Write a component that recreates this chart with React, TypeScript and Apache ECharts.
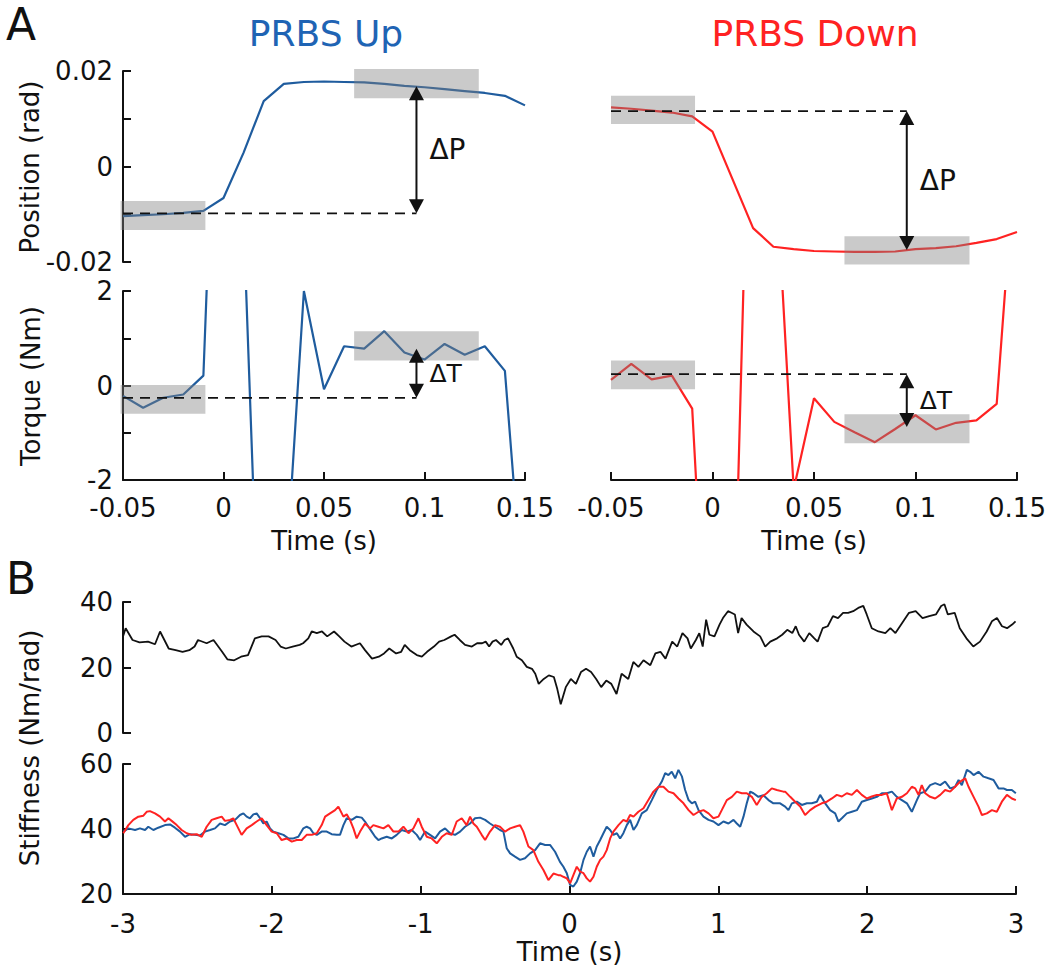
import React, { useEffect, useRef } from "react";
import * as echarts from "echarts";

// ---------- Panel A data ----------
const tA = [-0.05, -0.04, -0.03, -0.02, -0.01, 0, 0.01, 0.02, 0.03, 0.04, 0.05, 0.06, 0.07, 0.08, 0.09, 0.1, 0.11, 0.12, 0.13, 0.14, 0.15];
const posUp = [-0.0104, -0.0102, -0.01, -0.0097, -0.0093, -0.0066, 0.0029, 0.0137, 0.0173, 0.0177, 0.0178, 0.0177, 0.0176, 0.0173, 0.0169, 0.0166, 0.0162, 0.0158, 0.0154, 0.0148, 0.0128];
const posDown = [0.0124, 0.0121, 0.0117, 0.0113, 0.0105, 0.0073, -0.0028, -0.0129, -0.0168, -0.0173, -0.0177, -0.0178, -0.0179, -0.0179, -0.0178, -0.0173, -0.0171, -0.0167, -0.016, -0.0152, -0.0137];
const torqueUp = [-0.22, -0.47, -0.26, -0.19, 0.21, 11.4, 3.5, -8.3, -4.7, 2.0, -0.08, 0.83, 0.78, 1.15, 0.7, 0.55, 0.88, 0.65, 0.83, 0.31, -5.1];
const torqueDown = [0.12, 0.46, 0.13, 0.21, -0.49, -8.4, -6.3, 9.7, 5.5, -2.2, -0.27, -0.77, -0.99, -1.2, -0.92, -0.63, -0.93, -0.79, -0.74, -0.39, 5.4];

// shaded averaging windows: [xStart, xEnd, yLow, yHigh]
const posUpBoxes = [[-0.0512, -0.009, -0.0133, -0.0072], [0.065, 0.127, 0.0143, 0.0204]];
const posDownBoxes = [[-0.05, -0.0086, 0.0089, 0.0148], [0.065, 0.1266, -0.0205, -0.0146]];
const torqueUpBoxes = [[-0.0512, -0.009, -0.6, 0.01], [0.065, 0.127, 0.53, 1.15]];
const torqueDownBoxes = [[-0.05, -0.0086, -0.08, 0.53], [0.065, 0.1266, -1.22, -0.61]];

// delta annotations: [dashStart, arrowX, baseLevel, targetLevel]
const posUpDelta = [-0.05, 0.096, -0.0098, 0.0168];
const posDownDelta = [-0.05, 0.0957, 0.0116, -0.0175];
const torqueUpDelta = [-0.05, 0.096, -0.26, 0.78];
const torqueDownDelta = [-0.05, 0.0957, 0.24, -0.88];

// ---------- Panel B data: [time (s), stiffness (Nm/rad)] ----------
const stiffnessAll = [
  [-3.0, 29.5], [-2.982, 32.0], [-2.936, 28.4], [-2.889, 27.7], [-2.832, 27.9], [-2.785, 27.1], [-2.751, 31.0], [-2.693, 25.8], [-2.646, 25.3], [-2.6, 24.8],
  [-2.554, 25.3], [-2.519, 26.4], [-2.496, 28.4], [-2.438, 27.4], [-2.392, 28.4], [-2.334, 24.8], [-2.299, 22.5], [-2.253, 22.2], [-2.207, 23.3], [-2.16, 23.8],
  [-2.114, 28.9], [-2.068, 29.5], [-2.022, 29.5], [-1.975, 28.4], [-1.941, 26.4], [-1.906, 25.8], [-1.86, 26.4], [-1.813, 26.9], [-1.79, 27.4], [-1.755, 28.9],
  [-1.732, 31.0], [-1.698, 30.5], [-1.663, 31.0], [-1.628, 29.5], [-1.582, 31.0], [-1.547, 29.5], [-1.512, 27.9], [-1.466, 26.4], [-1.408, 27.4], [-1.374, 25.3],
  [-1.327, 22.7], [-1.281, 23.3], [-1.246, 24.3], [-1.211, 25.8], [-1.165, 24.3], [-1.131, 24.8], [-1.107, 26.9], [-1.073, 25.3], [-1.026, 23.8], [-0.992, 23.3],
  [-0.957, 24.8], [-0.911, 26.4], [-0.876, 27.9], [-0.841, 28.4], [-0.795, 29.5], [-0.772, 30.0], [-0.737, 28.4], [-0.702, 26.9], [-0.656, 26.4], [-0.621, 27.4],
  [-0.587, 27.4], [-0.563, 27.9], [-0.54, 26.4], [-0.517, 27.9], [-0.494, 28.4], [-0.459, 26.9], [-0.436, 28.4], [-0.413, 28.9], [-0.378, 25.8], [-0.355, 23.3],
  [-0.32, 22.2], [-0.287, 20.2], [-0.252, 19.6], [-0.23, 18.1], [-0.207, 15.0], [-0.173, 16.5], [-0.139, 17.6], [-0.105, 17.1], [-0.082, 13.4], [-0.059, 8.8],
  [-0.025, 14.0], [0.009, 16.5], [0.043, 15.0], [0.077, 18.6], [0.111, 19.6], [0.145, 18.6], [0.179, 16.5], [0.213, 14.0], [0.247, 16.0], [0.281, 15.0],
  [0.316, 11.9], [0.35, 18.1], [0.395, 16.5], [0.429, 21.7], [0.463, 20.2], [0.497, 22.2], [0.543, 20.7], [0.577, 24.3], [0.611, 24.8], [0.645, 22.7],
  [0.69, 27.9], [0.724, 26.4], [0.759, 30.5], [0.793, 28.9], [0.815, 25.8], [0.849, 28.4], [0.872, 30.5], [0.895, 26.4], [0.918, 34.6], [0.94, 30.0],
  [0.974, 29.5], [1.008, 33.1], [1.031, 35.1], [1.065, 37.2], [1.088, 36.7], [1.111, 36.2], [1.133, 30.5], [1.156, 35.1], [1.19, 33.1], [1.236, 31.0],
  [1.281, 29.5], [1.315, 26.4], [1.349, 27.9], [1.395, 28.9], [1.429, 30.0], [1.463, 31.5], [1.497, 30.5], [1.52, 32.6], [1.542, 30.0], [1.577, 27.9],
  [1.611, 30.5], [1.645, 28.9], [1.667, 27.9], [1.701, 32.0], [1.735, 32.6], [1.77, 35.7], [1.804, 35.1], [1.838, 36.7], [1.872, 36.7], [1.906, 37.2],
  [1.94, 38.2], [1.974, 38.8], [1.997, 36.2], [2.031, 32.0], [2.076, 31.0], [2.122, 30.5], [2.156, 32.0], [2.19, 30.5], [2.235, 33.6], [2.281, 36.7],
  [2.326, 37.2], [2.372, 35.1], [2.417, 35.7], [2.462, 36.2], [2.497, 38.8], [2.519, 39.3], [2.542, 36.2], [2.588, 36.7], [2.622, 32.0], [2.667, 28.9],
  [2.713, 26.4], [2.758, 27.9], [2.803, 31.0], [2.838, 34.1], [2.872, 35.1], [2.906, 32.6], [2.94, 32.0], [2.974, 33.1], [2.997, 34.1]
];

const stiffnessUp = [
  [-2.998, 39.2], [-2.964, 40.2], [-2.919, 39.7], [-2.886, 40.2], [-2.852, 39.7], [-2.83, 40.7], [-2.796, 39.7], [-2.763, 40.4], [-2.718, 41.2], [-2.684, 41.4],
  [-2.651, 40.4], [-2.617, 39.2], [-2.583, 37.6], [-2.55, 38.4], [-2.516, 38.2], [-2.483, 38.0], [-2.449, 39.2], [-2.415, 39.7], [-2.382, 40.2], [-2.348, 41.7],
  [-2.315, 41.2], [-2.281, 42.3], [-2.247, 42.8], [-2.214, 44.3], [-2.191, 44.8], [-2.169, 43.8], [-2.147, 43.3], [-2.124, 44.5], [-2.102, 44.8], [-2.079, 43.3],
  [-2.057, 41.7], [-2.035, 42.3], [-2.012, 40.2], [-1.99, 39.2], [-1.956, 38.7], [-1.922, 38.2], [-1.889, 37.1], [-1.855, 37.1], [-1.822, 37.6], [-1.788, 40.2],
  [-1.766, 40.7], [-1.743, 40.2], [-1.721, 38.7], [-1.698, 38.2], [-1.665, 39.2], [-1.631, 39.2], [-1.598, 38.4], [-1.564, 38.2], [-1.542, 38.2], [-1.519, 41.2],
  [-1.497, 43.3], [-1.463, 42.8], [-1.43, 43.8], [-1.396, 43.5], [-1.374, 42.3], [-1.351, 40.7], [-1.329, 39.2], [-1.306, 37.6], [-1.284, 36.6], [-1.262, 37.1],
  [-1.228, 37.6], [-1.194, 37.1], [-1.161, 38.2], [-1.127, 39.7], [-1.094, 39.2], [-1.06, 39.7], [-1.026, 38.2], [-1.004, 36.6], [-0.97, 39.2], [-0.937, 38.2],
  [-0.903, 37.1], [-0.87, 39.2], [-0.836, 40.2], [-0.803, 38.7], [-0.769, 38.2], [-0.735, 39.2], [-0.702, 40.7], [-0.668, 41.7], [-0.635, 43.3], [-0.601, 43.5],
  [-0.567, 42.8], [-0.534, 41.7], [-0.5, 40.7], [-0.467, 39.7], [-0.444, 39.2], [-0.422, 34.1], [-0.399, 32.5], [-0.366, 31.5], [-0.332, 30.5], [-0.299, 31.0],
  [-0.265, 32.5], [-0.231, 33.5], [-0.198, 35.6], [-0.164, 35.1], [-0.131, 35.1], [-0.097, 33.0], [-0.064, 29.9], [-0.041, 28.4], [-0.018, 26.4], [0.004, 22.8],
  [0.026, 22.3], [0.049, 23.8], [0.071, 26.4], [0.094, 30.5], [0.116, 33.0], [0.138, 34.6], [0.161, 31.5], [0.183, 34.6], [0.206, 36.6], [0.228, 38.7],
  [0.25, 40.7], [0.273, 39.7], [0.295, 38.2], [0.318, 38.7], [0.34, 37.1], [0.362, 38.7], [0.385, 41.2], [0.407, 42.8], [0.43, 39.7], [0.452, 41.2],
  [0.486, 44.8], [0.519, 45.8], [0.553, 48.9], [0.586, 52.0], [0.62, 54.6], [0.643, 57.2], [0.665, 56.6], [0.687, 57.6], [0.71, 55.6], [0.732, 58.2],
  [0.755, 56.2], [0.777, 52.0], [0.8, 48.9], [0.822, 47.9], [0.844, 48.4], [0.867, 45.8], [0.9, 43.8], [0.934, 42.8], [0.967, 42.3], [1.001, 41.2],
  [1.034, 42.3], [1.068, 41.7], [1.102, 42.8], [1.124, 41.7], [1.147, 40.7], [1.169, 43.8], [1.191, 47.9], [1.214, 51.5], [1.236, 51.0], [1.269, 49.9],
  [1.303, 50.4], [1.337, 48.9], [1.37, 47.9], [1.415, 47.9], [1.449, 46.9], [1.471, 45.8], [1.494, 47.9], [1.527, 48.4], [1.561, 47.4], [1.595, 47.9],
  [1.628, 47.9], [1.662, 48.4], [1.684, 50.5], [1.718, 47.9], [1.751, 45.8], [1.785, 44.8], [1.807, 42.3], [1.83, 43.3], [1.863, 44.8], [1.897, 45.3],
  [1.931, 45.8], [1.964, 48.4], [1.998, 48.9], [2.031, 49.4], [2.065, 49.9], [2.099, 51.0], [2.132, 51.0], [2.166, 51.5], [2.199, 49.9], [2.233, 48.9],
  [2.267, 47.9], [2.3, 45.3], [2.334, 48.9], [2.356, 51.0], [2.39, 51.5], [2.423, 53.5], [2.457, 54.1], [2.491, 53.5], [2.524, 54.6], [2.558, 52.5],
  [2.591, 53.0], [2.614, 55.1], [2.636, 53.5], [2.67, 58.2], [2.692, 57.6], [2.715, 56.6], [2.748, 57.6], [2.782, 56.1], [2.815, 55.6], [2.849, 55.1],
  [2.883, 52.5], [2.916, 52.5], [2.939, 52.0], [2.972, 52.0], [2.999, 51.0]
];

const stiffnessDown = [
  [-2.998, 38.7], [-2.964, 41.2], [-2.931, 42.8], [-2.897, 43.8], [-2.863, 44.1], [-2.841, 45.3], [-2.819, 45.5], [-2.785, 44.8], [-2.751, 43.8], [-2.718, 42.3],
  [-2.695, 43.3], [-2.673, 42.5], [-2.639, 41.2], [-2.606, 39.7], [-2.572, 38.7], [-2.539, 38.2], [-2.505, 38.4], [-2.471, 37.6], [-2.438, 40.7], [-2.404, 42.8],
  [-2.371, 43.3], [-2.337, 43.8], [-2.315, 42.5], [-2.281, 42.8], [-2.259, 43.3], [-2.236, 41.2], [-2.203, 38.2], [-2.169, 40.2], [-2.135, 41.2], [-2.102, 42.3],
  [-2.068, 43.3], [-2.035, 41.2], [-2.001, 39.2], [-1.967, 38.7], [-1.934, 36.6], [-1.9, 37.1], [-1.866, 36.1], [-1.833, 36.6], [-1.799, 36.6], [-1.766, 38.2],
  [-1.732, 38.2], [-1.698, 38.7], [-1.665, 41.2], [-1.642, 43.8], [-1.609, 44.8], [-1.575, 45.8], [-1.553, 46.9], [-1.53, 44.8], [-1.519, 43.8], [-1.497, 44.5],
  [-1.475, 42.8], [-1.452, 40.2], [-1.43, 37.1], [-1.407, 39.2], [-1.374, 41.7], [-1.34, 40.2], [-1.318, 41.2], [-1.284, 40.7], [-1.25, 40.2], [-1.217, 41.2],
  [-1.183, 39.2], [-1.15, 39.2], [-1.116, 40.7], [-1.082, 38.7], [-1.049, 40.2], [-1.015, 43.3], [-0.993, 40.7], [-0.959, 37.6], [-0.926, 37.1], [-0.892, 35.6],
  [-0.858, 37.6], [-0.825, 38.7], [-0.791, 38.2], [-0.758, 42.3], [-0.724, 43.3], [-0.691, 41.2], [-0.668, 43.8], [-0.646, 41.7], [-0.623, 40.7], [-0.59, 38.2],
  [-0.567, 36.6], [-0.534, 39.2], [-0.5, 41.2], [-0.467, 40.7], [-0.433, 39.2], [-0.399, 40.2], [-0.366, 40.7], [-0.332, 41.2], [-0.31, 39.2], [-0.276, 34.6],
  [-0.243, 33.5], [-0.209, 29.9], [-0.175, 27.4], [-0.142, 24.3], [-0.108, 26.3], [-0.075, 25.8], [-0.063, 25.8], [-0.041, 25.3], [-0.018, 24.8], [0.004, 23.3],
  [0.026, 25.8], [0.049, 28.4], [0.071, 26.9], [0.094, 26.4], [0.116, 24.8], [0.138, 23.8], [0.161, 25.3], [0.183, 28.4], [0.206, 30.5], [0.228, 31.5],
  [0.25, 33.5], [0.273, 37.1], [0.295, 39.2], [0.329, 41.2], [0.362, 42.8], [0.385, 42.3], [0.407, 44.3], [0.43, 43.8], [0.463, 45.3], [0.497, 46.4],
  [0.53, 48.9], [0.564, 51.5], [0.598, 53.0], [0.631, 53.0], [0.665, 51.5], [0.699, 51.0], [0.732, 49.4], [0.766, 47.9], [0.8, 45.8], [0.833, 44.3],
  [0.867, 45.3], [0.9, 45.8], [0.934, 44.8], [0.967, 43.3], [1.001, 43.8], [1.023, 45.8], [1.057, 48.9], [1.091, 49.9], [1.124, 51.5], [1.158, 51.0],
  [1.191, 51.0], [1.225, 49.9], [1.258, 47.4], [1.292, 49.9], [1.325, 51.0], [1.359, 52.5], [1.393, 52.0], [1.437, 51.5], [1.449, 51.5], [1.483, 49.9],
  [1.516, 48.4], [1.55, 46.9], [1.583, 44.3], [1.617, 45.8], [1.651, 46.9], [1.695, 47.9], [1.729, 48.4], [1.763, 49.4], [1.796, 50.5], [1.83, 50.0],
  [1.863, 51.0], [1.897, 50.5], [1.931, 52.0], [1.964, 50.5], [1.998, 49.4], [2.031, 50.0], [2.065, 50.5], [2.099, 50.5], [2.132, 51.0], [2.166, 45.8],
  [2.199, 49.4], [2.233, 49.9], [2.267, 51.0], [2.3, 53.0], [2.323, 52.5], [2.345, 50.5], [2.367, 53.5], [2.39, 51.0], [2.423, 49.9], [2.457, 49.4],
  [2.491, 50.5], [2.524, 52.0], [2.558, 51.5], [2.591, 53.0], [2.625, 54.6], [2.659, 55.6], [2.681, 53.0], [2.715, 49.9], [2.748, 46.9], [2.771, 44.3],
  [2.804, 44.8], [2.838, 45.8], [2.871, 45.3], [2.905, 48.4], [2.939, 50.5], [2.972, 49.4], [2.999, 48.9]
];

// ---------- styling ----------
const FONT = "DejaVu Sans";
const BLUE = "#1f5c9e";
const BLUE_TITLE = "#1f64b4";
const RED = "#ff2222";
const INK = "#111111";
const SHADE = "rgba(128,128,128,0.42)";

const axisLineStyle = { show: true, onZero: false, lineStyle: { color: INK, width: 2 } };
const tickStyle = { show: true, inside: true, length: 8, lineStyle: { color: INK, width: 2 } };
const labelBase = { color: INK, fontSize: 26, lineHeight: 26, fontFamily: FONT };

const fmtPos = (v: number) => {
  const k = Math.round(v * 100);
  return k === 2 ? "0.02" : k === 0 ? "0" : k === -2 ? "-0.02" : "";
};
const fmtTorque = (v: number) => {
  const k = Math.round(v);
  return k % 2 === 0 ? String(k === 0 ? 0 : k) : "";
};
const fmtTimeA = (v: number) => {
  const r = Math.round(v * 100) / 100;
  return String(r === 0 ? 0 : r);
};
const fmtInt = (v: number) => {
  const r = Math.round(v);
  return String(r === 0 ? 0 : r);
};

const hiddenAxis = (gridIndex: number, min: number, max: number) => ({
  type: "value", gridIndex, min, max, show: false, splitLine: { show: false },
});

const boxRender = (params: any, api: any) => {
  const p0 = api.coord([api.value(0), api.value(3)]);
  const p1 = api.coord([api.value(1), api.value(2)]);
  return {
    type: "rect",
    shape: { x: p0[0], y: p0[1], width: p1[0] - p0[0], height: p1[1] - p0[1] },
    style: { fill: SHADE },
  };
};

const deltaRender = (label: string, fontSize: number) => (params: any, api: any) => {
  const a = api.coord([api.value(0), api.value(2)]);
  const b = api.coord([api.value(1), api.value(2)]);
  const c = api.coord([api.value(1), api.value(3)]);
  const dir = c[1] < b[1] ? -1 : 1;
  const hl = 14;
  const hw = 7.5;
  return {
    type: "group",
    children: [
      { type: "line", shape: { x1: a[0], y1: a[1], x2: b[0], y2: b[1] }, style: { stroke: INK, lineWidth: 1.8, lineDash: [10, 7] } },
      { type: "line", shape: { x1: b[0], y1: b[1] + dir * hl * 0.7, x2: c[0], y2: c[1] - dir * hl * 0.7 }, style: { stroke: INK, lineWidth: 2 } },
      { type: "polygon", shape: { points: [[b[0], b[1]], [b[0] - hw, b[1] + dir * hl], [b[0] + hw, b[1] + dir * hl]] }, style: { fill: INK } },
      { type: "polygon", shape: { points: [[c[0], c[1]], [c[0] - hw, c[1] - dir * hl], [c[0] + hw, c[1] - dir * hl]] }, style: { fill: INK } },
      {
        type: "text",
        x: b[0] + 13,
        y: (b[1] + c[1]) / 2,
        style: { text: label, fontSize, fontFamily: FONT, fill: INK, align: "left", verticalAlign: "middle", textAlign: "left", textVerticalAlign: "middle" },
      },
    ],
  };
};

const lineSeries = (xi: number, data: number[][], color: string, width: number, z = 2) => ({
  type: "line", xAxisIndex: xi, yAxisIndex: xi, data, showSymbol: false, symbol: "none",
  lineStyle: { color, width }, itemStyle: { color }, z, clip: true, silent: true,
});

const pairs = (xs: number[], ys: number[]) => xs.map((x, i) => [x, ys[i]]);

const textEl = (text: string, x: number, y: number, fontSize: number, fill: string, rotation = 0) => ({
  type: "text", x, y, rotation,
  style: { text, fontSize, fontFamily: FONT, fill, align: "center", verticalAlign: "middle", textAlign: "center", textVerticalAlign: "middle" },
});

const timeAxisA = (gridIndex: number) => ({
  type: "value", gridIndex, min: -0.05, max: 0.15, interval: 0.05, position: "bottom",
  axisLine: axisLineStyle, axisTick: tickStyle, splitLine: { show: false },
  axisLabel: { ...labelBase, margin: 15, formatter: fmtTimeA },
  name: "Time (s)", nameLocation: "middle", nameGap: 48, nameTextStyle: { ...labelBase },
});

export default function App() {
  const ref = useRef<HTMLDivElement>(null);
  useEffect(() => {
    if (!ref.current) return;
    const chart = echarts.init(ref.current, null, { renderer: "svg" });
    const option: any = {
      animation: false,
      backgroundColor: "#ffffff",
      textStyle: { fontFamily: FONT },
      grid: [
        { left: 123, top: 71, width: 402, height: 191 },
        { left: 611, top: 71, width: 406, height: 191 },
        { left: 123, top: 291, width: 402, height: 189 },
        { left: 611, top: 291, width: 406, height: 189 },
        { left: 123, top: 602, width: 893, height: 131 },
        { left: 123, top: 764, width: 893, height: 130 },
      ],
      xAxis: [
        hiddenAxis(0, -0.05, 0.15),
        hiddenAxis(1, -0.05, 0.15),
        timeAxisA(2),
        timeAxisA(3),
        hiddenAxis(4, -3, 3),
        {
          type: "value", gridIndex: 5, min: -3, max: 3, interval: 1, position: "bottom",
          axisLine: axisLineStyle, axisTick: tickStyle, splitLine: { show: false },
          axisLabel: { ...labelBase, margin: 17, formatter: fmtInt },
          name: "Time (s)", nameLocation: "middle", nameGap: 45, nameTextStyle: { ...labelBase },
        },
      ],
      yAxis: [
        {
          type: "value", gridIndex: 0, min: -0.02, max: 0.02, interval: 0.01, position: "left",
          axisLine: axisLineStyle, axisTick: tickStyle, splitLine: { show: false },
          axisLabel: { ...labelBase, margin: 10, formatter: fmtPos },
        },
        hiddenAxis(1, -0.02, 0.02),
        {
          type: "value", gridIndex: 2, min: -2, max: 2, interval: 1, position: "left",
          axisLine: axisLineStyle, axisTick: tickStyle, splitLine: { show: false },
          axisLabel: { ...labelBase, margin: 10, formatter: fmtTorque },
        },
        hiddenAxis(3, -2, 2),
        {
          type: "value", gridIndex: 4, min: 0, max: 40, interval: 20, position: "left",
          axisLine: axisLineStyle, axisTick: tickStyle, splitLine: { show: false },
          axisLabel: { ...labelBase, margin: 10, formatter: fmtInt },
        },
        {
          type: "value", gridIndex: 5, min: 20, max: 60, interval: 20, position: "left",
          axisLine: axisLineStyle, axisTick: tickStyle, splitLine: { show: false },
          axisLabel: { ...labelBase, margin: 10, formatter: fmtInt },
        },
      ],
      graphic: [
        textEl("A", 21, 24, 44, INK),
        textEl("B", 21, 578, 44, INK),
        textEl("PRBS Up", 326, 33, 36, BLUE_TITLE),
        textEl("PRBS Down", 815, 33, 36, RED),
        textEl("Position (rad)", 30, 167, 26, INK, Math.PI / 2),
        textEl("Torque (Nm)", 31, 386, 26, INK, Math.PI / 2),
        textEl("Stiffness (Nm/rad)", 30, 748, 26, INK, Math.PI / 2),
      ],
      series: [
        lineSeries(0, pairs(tA, posUp), BLUE, 2.2),
        lineSeries(1, pairs(tA, posDown), RED, 2.2),
        lineSeries(2, pairs(tA, torqueUp), BLUE, 2.2),
        lineSeries(3, pairs(tA, torqueDown), RED, 2.2),
        { type: "custom", xAxisIndex: 0, yAxisIndex: 0, data: posUpBoxes, renderItem: boxRender, encode: { x: [0, 1], y: [2, 3] }, z: 3, clip: false, silent: true },
        { type: "custom", xAxisIndex: 1, yAxisIndex: 1, data: posDownBoxes, renderItem: boxRender, encode: { x: [0, 1], y: [2, 3] }, z: 3, clip: false, silent: true },
        { type: "custom", xAxisIndex: 2, yAxisIndex: 2, data: torqueUpBoxes, renderItem: boxRender, encode: { x: [0, 1], y: [2, 3] }, z: 3, clip: false, silent: true },
        { type: "custom", xAxisIndex: 3, yAxisIndex: 3, data: torqueDownBoxes, renderItem: boxRender, encode: { x: [0, 1], y: [2, 3] }, z: 3, clip: false, silent: true },
        { type: "custom", xAxisIndex: 0, yAxisIndex: 0, data: [posUpDelta], renderItem: deltaRender("ΔP", 28), encode: { x: [0, 1], y: [2, 3] }, z: 4, clip: false, silent: true },
        { type: "custom", xAxisIndex: 1, yAxisIndex: 1, data: [posDownDelta], renderItem: deltaRender("ΔP", 28), encode: { x: [0, 1], y: [2, 3] }, z: 4, clip: false, silent: true },
        { type: "custom", xAxisIndex: 2, yAxisIndex: 2, data: [torqueUpDelta], renderItem: deltaRender("ΔT", 25), encode: { x: [0, 1], y: [2, 3] }, z: 4, clip: false, silent: true },
        { type: "custom", xAxisIndex: 3, yAxisIndex: 3, data: [torqueDownDelta], renderItem: deltaRender("ΔT", 25), encode: { x: [0, 1], y: [2, 3] }, z: 4, clip: false, silent: true },
        lineSeries(4, stiffnessAll, INK, 1.8),
        lineSeries(5, stiffnessUp, BLUE, 2),
        lineSeries(5, stiffnessDown, RED, 2),
      ],
    };
    chart.setOption(option);
    return () => chart.dispose();
  }, []);
  return (
    <div
      ref={ref}
      style={{ position: "fixed", left: 0, top: 0, width: 1050, height: 967, background: "#ffffff" }}
    />
  );
}
